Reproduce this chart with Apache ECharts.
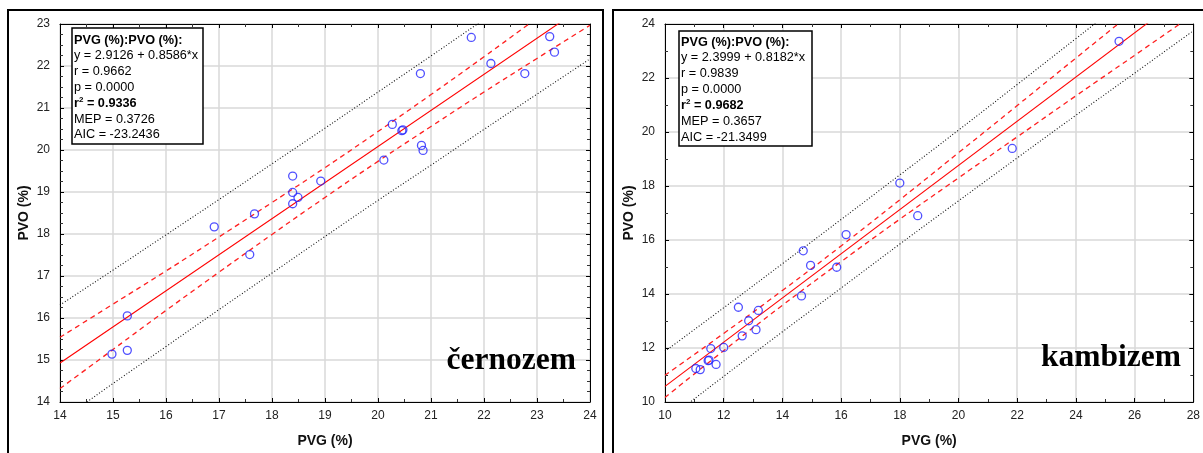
<!DOCTYPE html>
<html>
<head>
<meta charset="utf-8">
<script src="https://cdn.jsdelivr.net/npm/echarts@6/dist/echarts.min.js"></script>
<style>
  html, body { margin: 0; padding: 0; background: #fff; }
  #chart { width: 1203px; height: 453px; }
</style>
</head>
<body>
<div id="chart"></div>
<script>
// --- černozem (left) ---
const leftPoints = [
  [14.98, 15.14], [15.27, 15.23], [15.27, 16.05], [16.91, 18.17], [17.58, 17.51],
  [17.67, 18.48], [18.39, 19.38], [18.39, 18.99], [18.39, 18.72], [18.49, 18.87],
  [18.92, 19.26], [20.11, 19.76], [20.27, 20.61], [20.45, 20.46], [20.47, 20.48],
  [20.80, 21.82], [20.82, 20.11], [20.85, 19.99], [21.76, 22.68], [22.13, 22.06],
  [22.77, 21.82], [23.24, 22.70], [23.33, 22.33]
];
const leftFit = [[14, 14.93], [24, 23.52]];
const leftBandX = [14, 15, 16, 17, 18, 19, 20, 21, 22, 23, 24];
const leftConfUpper = [15.54, 16.33, 17.12, 17.93, 18.75, 19.58, 20.44, 21.32, 22.22, 23.14, 24.06];
const leftConfLower = [14.32, 15.25, 16.18, 17.09, 17.99, 18.87, 19.73, 20.56, 21.38, 22.18, 22.97];
const leftPredUpper = [16.31, 17.14, 17.98, 18.82, 19.67, 20.52, 21.38, 22.24, 23.11, 23.99, 24.87];
const leftPredLower = [13.55, 14.44, 15.32, 16.20, 17.07, 17.94, 18.80, 19.64, 20.49, 21.33, 22.17];
const leftStats = ['PVG (%):PVO (%):', 'y = 2.9126 + 0.8586*x', 'r = 0.9662', 'p = 0.0000',
  ' = 0.9336', 'MEP = 0.3726', 'AIC = -23.2436'];

// --- kambizem (right) ---
const rightPoints = [
  [11.05, 11.24], [11.20, 11.20], [11.47, 11.53], [11.50, 11.55], [11.56, 11.98],
  [11.74, 11.39], [12.00, 12.02], [12.50, 13.51], [12.63, 12.45], [12.85, 13.01],
  [13.10, 12.68], [13.18, 13.39], [14.65, 13.93], [14.71, 15.60], [14.96, 15.06],
  [15.85, 14.99], [16.17, 16.20], [18.00, 18.11], [18.61, 16.90], [21.83, 19.39],
  [25.47, 23.36]
];
const rightFit = [[10, 10.58], [28, 25.31]];
const rightBandX = [10, 12, 14, 16, 18, 20, 22, 24, 26, 28];
const rightConfUpper = [10.99, 12.54, 14.13, 15.78, 17.49, 19.23, 20.98, 22.74, 24.50, 26.27];
const rightConfLower = [10.17, 11.90, 13.58, 15.20, 16.77, 18.30, 19.82, 21.34, 22.84, 24.35];
const rightPredUpper = [11.88, 13.49, 15.12, 16.76, 18.41, 20.07, 21.76, 23.46, 25.16, 26.87];
const rightPredLower = [9.28, 10.95, 12.60, 14.22, 15.85, 17.45, 19.04, 20.62, 22.18, 23.75];
const rightStats = ['PVG (%):PVO (%):', 'y = 2.3999 + 0.8182*x', 'r = 0.9839', 'p = 0.0000',
  ' = 0.9682', 'MEP = 0.3657', 'AIC = -21.3499'];

const SANS = '"Liberation Sans", Arial, sans-serif';
const SERIF = '"Liberation Serif", "Times New Roman", serif';

function zip(xs, ys) {
  return xs.map((x, i) => [x, ys[i]]);
}

function axisPair(dim, gi, min, max, interval, split, name) {
  const main = {
    type: 'value', gridIndex: gi, min, max, interval,
    name, nameLocation: 'middle',
    nameGap: dim === 'x' ? 32 : 29,
    nameTextStyle: { fontFamily: SANS, fontWeight: 'bold', fontSize: 14, color: '#111' },
    axisLine: { onZero: false, lineStyle: { color: '#000', width: 1 } },
    axisTick: { inside: true, length: 4, lineStyle: { color: '#000' } },
    minorTick: { show: true, splitNumber: split, length: 3, lineStyle: { color: '#333' } },
    splitLine: { show: true, lineStyle: { color: '#d9d9d9', width: 1.5 } },
    axisLabel: { fontFamily: SANS, fontSize: 12, color: '#222', margin: dim === 'x' ? 8 : 10 }
  };
  const mirror = {
    type: 'value', gridIndex: gi, min, max, interval,
    position: dim === 'x' ? 'top' : 'right',
    axisLine: { onZero: false, lineStyle: { color: '#000', width: 1 } },
    axisTick: { inside: true, length: 4, lineStyle: { color: '#000' } },
    minorTick: { show: true, splitNumber: split, length: 3, lineStyle: { color: '#333' } },
    splitLine: { show: false },
    axisLabel: { show: false }
  };
  return [main, mirror];
}

function lineSeries(xi, yi, data, color, type, width, smooth) {
  return {
    type: 'line', xAxisIndex: xi, yAxisIndex: yi, data,
    showSymbol: false, smooth, silent: true, clip: true,
    lineStyle: { color, width, type }
  };
}

function panelSeries(xi, yi, points, fit, bandX, cu, cl, pu, pl) {
  return [
    lineSeries(xi, yi, zip(bandX, pu), '#111', [1, 2], 1.1, true),
    lineSeries(xi, yi, zip(bandX, pl), '#111', [1, 2], 1.1, true),
    lineSeries(xi, yi, zip(bandX, cu), '#ff2020', [5, 4], 1.3, true),
    lineSeries(xi, yi, zip(bandX, cl), '#ff2020', [5, 4], 1.3, true),
    lineSeries(xi, yi, fit, '#ff0000', 'solid', 1.1, false),
    {
      type: 'scatter', xAxisIndex: xi, yAxisIndex: yi, data: points,
      symbol: 'circle', symbolSize: 8, z: 5,
      itemStyle: { color: 'rgba(0,0,0,0)', borderColor: '#2424ff', borderWidth: 1.3 }
    }
  ];
}

function statsBox(x, y, w, h, lines, lineYs) {
  const items = [{
    type: 'rect', z: 100, shape: { x, y, width: w, height: h },
    style: { fill: '#fff', stroke: '#000', lineWidth: 1.5 }
  }];
  lines.forEach((t, i) => {
    if (i === 4) {
      items.push({
        type: 'text', z: 101, x: x + 2, y: lineYs[i],
        style: {
          text: '{b|r}{s|2}{b|' + t + '}',
          verticalAlign: 'middle',
          rich: {
            b: { fontFamily: SANS, fontSize: 12.7, fontWeight: 'bold', fill: '#000', lineHeight: 14 },
            s: { fontFamily: SANS, fontSize: 8, fontWeight: 'bold', fill: '#000', lineHeight: 14, verticalAlign: 'top' }
          }
        }
      });
    } else {
      items.push({
        type: 'text', z: 101, x: x + 2, y: lineYs[i],
        style: {
          text: t, fill: '#000', verticalAlign: 'middle',
          font: (i === 0 ? 'bold ' : '') + '12.7px ' + SANS
        }
      });
    }
  });
  return items;
}

const lx = axisPair('x', 0, 14, 24, 1, 2, 'PVG (%)');
const ly = axisPair('y', 0, 14, 23, 1, 4, 'PVO (%)');
const rx = axisPair('x', 1, 10, 28, 2, 2, 'PVG (%)');
const ry = axisPair('y', 1, 10, 24, 2, 2, 'PVO (%)');

const option = {
  animation: false,
  backgroundColor: '#fff',
  grid: [
    { left: 60, top: 24, width: 530, height: 378 },
    { left: 665, top: 24, width: 529, height: 378 }
  ],
  xAxis: [lx[0], lx[1], rx[0], rx[1]],
  yAxis: [ly[0], ly[1], ry[0], ry[1]],
  series: [
    ...panelSeries(0, 0, leftPoints, leftFit, leftBandX, leftConfUpper, leftConfLower, leftPredUpper, leftPredLower),
    ...panelSeries(2, 2, rightPoints, rightFit, rightBandX, rightConfUpper, rightConfLower, rightPredUpper, rightPredLower)
  ],
  graphic: [
    {
      type: 'polyline', shape: { points: [[8, 470], [8, 10], [603, 10], [603, 470]] },
      style: { stroke: '#000', lineWidth: 2, fill: null }
    },
    {
      type: 'polyline', shape: { points: [[613, 470], [613, 10], [1215, 10]] },
      style: { stroke: '#000', lineWidth: 2, fill: null }
    },
    ...statsBox(72, 28, 131, 116, leftStats, [40, 55, 71, 87, 103, 119, 134]),
    ...statsBox(679, 31, 133, 115, rightStats, [42, 57, 73, 89, 105, 121, 137]),
    {
      type: 'text', x: 576, y: 361, z: 100,
      style: { text: 'černozem', font: 'bold 31.5px ' + SERIF, fill: '#000', align: 'right', verticalAlign: 'middle' }
    },
    {
      type: 'text', x: 1181, y: 358, z: 100,
      style: { text: 'kambizem', font: 'bold 31.5px ' + SERIF, fill: '#000', align: 'right', verticalAlign: 'middle' }
    }
  ]
};

const chart = echarts.init(document.getElementById('chart'));
chart.setOption(option);
</script>
</body>
</html>
